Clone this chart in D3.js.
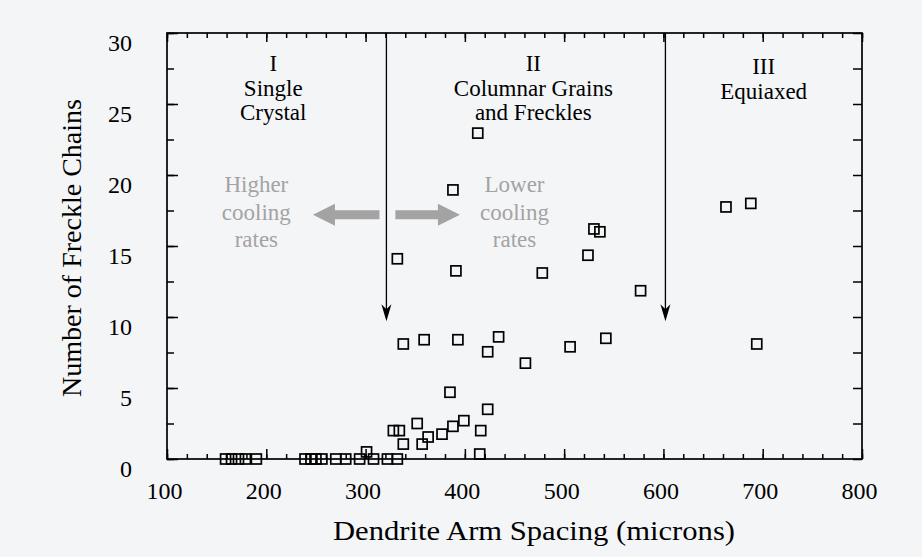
<!DOCTYPE html>
<html>
<head>
<meta charset="utf-8">
<script src="https://cdn.jsdelivr.net/npm/d3@7"></script>
<style>
  body { margin: 0; background: #f4f5f7; }
  svg { display: block; }
  text { font-family: "Liberation Serif", "Times New Roman", serif; }
</style>
</head>
<body>
<div id="chart"></div>
<script>
// Chart size
var width  = 922;
var height = 557;

// Dendrite arm spacing (microns) and number of freckle chains
var armSpacing = [159, 165, 172, 179, 190, 239, 245, 250, 256, 270, 280, 294, 308, 301, 322, 332,
                  328, 334, 338, 352, 357, 363, 377, 385, 388, 399, 416, 415, 423,
                  338, 359, 393, 423, 434, 461, 506, 542, 694,
                  332, 391, 478, 524, 577, 413, 388, 530, 536, 663, 688];
var freckleChains = [0, 0, 0, 0, 0, 0, 0, 0, 0, 0, 0, 0, 0, 0.5, 0, 0,
                     2.0, 2.0, 1.05, 2.5, 1.05, 1.55, 1.75, 4.7, 2.3, 2.7, 2.0, 0.35, 3.5,
                     8.1, 8.4, 8.4, 7.55, 8.6, 6.75, 7.9, 8.5, 8.1,
                     14.1, 13.25, 13.1, 14.35, 11.85, 22.95, 18.95, 16.2, 16.0, 17.75, 18.0];

// Axis ticks
var xMajorTicks = [100, 200, 300, 400, 500, 600, 700, 800];
var xMinorTicks = d3.range(100, 801, 20);
var yMajorTicks = [0, 5, 10, 15, 20, 25, 30];
var yMinorTicks = d3.range(0, 30.1, 2.5);

// Region boundaries (arrows) and labels
var boundaries    = [321, 602];
var boundaryTip   = 9.7;
var regionCenters = [207, 469, 701];
var regionLines   = [["I", "Single", "Crystal"],
                     ["II", "Columnar Grains", "and Freckles"],
                     ["III", "Equiaxed"]];

// Cooling rate notes (grey)
var coolingCenters = [190, 450];
var coolingLines   = [["Higher", "cooling", "rates"], ["Lower", "cooling", "rates"]];
var coolingArrows  = [[314, 247], [330, 395]];
var coolingArrowY  = 17.2;

var svg = d3.select("#chart").append("svg")
    .attr("width", width)
    .attr("height", height);

var x = d3.scaleLinear().domain([100, 800]).range([167, 862]);
var y = d3.scaleLinear().domain([0, 30]).range([459, 33]);

function styleAxis(g) {
    g.select(".domain").remove();
    g.selectAll("line").attr("stroke", "#000").attr("stroke-width", 1.5);
}

// Minor ticks, all four sides, pointing inward
svg.append("g").attr("transform", "translate(0," + y(0) + ")")
    .call(d3.axisBottom(x).tickValues(xMinorTicks).tickSize(-5).tickFormat(""))
    .call(styleAxis);
svg.append("g").attr("transform", "translate(0," + y(30) + ")")
    .call(d3.axisTop(x).tickValues(xMinorTicks).tickSize(-5).tickFormat(""))
    .call(styleAxis);
svg.append("g").attr("transform", "translate(" + x(100) + ",0)")
    .call(d3.axisLeft(y).tickValues(yMinorTicks).tickSize(-7).tickFormat(""))
    .call(styleAxis);
svg.append("g").attr("transform", "translate(" + x(800) + ",0)")
    .call(d3.axisRight(y).tickValues(yMinorTicks).tickSize(-9).tickFormat(""))
    .call(styleAxis);

// Major ticks with labels
svg.append("g").attr("transform", "translate(0," + y(0) + ")")
    .call(d3.axisBottom(x).tickValues(xMajorTicks).tickSize(-10).tickPadding(0))
    .call(styleAxis)
    .call(function(g) {
        g.selectAll("text")
            .attr("y", 32).attr("dy", "0.33em").attr("dx", -3)
            .attr("font-size", 24).attr("fill", "#000");
    });
svg.append("g").attr("transform", "translate(0," + y(30) + ")")
    .call(d3.axisTop(x).tickValues(xMajorTicks).tickSize(-9).tickFormat(""))
    .call(styleAxis);
svg.append("g").attr("transform", "translate(" + x(100) + ",0)")
    .call(d3.axisLeft(y).tickValues(yMajorTicks).tickSize(-11).tickPadding(35))
    .call(styleAxis)
    .call(function(g) {
        g.selectAll("text")
            .attr("y", 9.5).attr("dy", "0.33em")
            .attr("font-size", 24).attr("fill", "#000");
    });

// Frame
svg.append("rect")
    .attr("x", x(100))
    .attr("y", y(30))
    .attr("width", x(800) - x(100))
    .attr("height", y(0) - y(30))
    .attr("fill", "none")
    .attr("stroke", "#000")
    .attr("stroke-width", 1.7);

// Boundary arrows
boundaries.forEach(function(b) {
    var px = x(b), tip = y(boundaryTip);
    svg.append("line")
        .attr("x1", px).attr("x2", px)
        .attr("y1", y(30)).attr("y2", tip - 10)
        .attr("stroke", "#000").attr("stroke-width", 1.3);
    svg.append("path")
        .attr("d", "M" + px + "," + tip + "L" + (px - 5) + "," + (tip - 17) +
                   "L" + px + "," + (tip - 12) + "L" + (px + 5) + "," + (tip - 17) + "Z")
        .attr("fill", "#000");
});

// Region labels
regionLines.forEach(function(lines, i) {
    var t = svg.append("text")
        .attr("x", x(regionCenters[i]))
        .attr("y", i == 2 ? 74 : 71)
        .attr("text-anchor", "middle")
        .attr("font-size", 23)
        .attr("fill", "#000");
    lines.forEach(function(line, j) {
        t.append("tspan")
            .attr("x", x(regionCenters[i]))
            .attr("dy", j == 0 ? 0 : 24.5)
            .text(line);
    });
});

// Grey cooling-rate notes
coolingLines.forEach(function(lines, i) {
    var t = svg.append("text")
        .attr("x", x(coolingCenters[i]))
        .attr("y", 192)
        .attr("text-anchor", "middle")
        .attr("font-size", 23)
        .attr("fill", "#a3a3a3");
    lines.forEach(function(line, j) {
        t.append("tspan")
            .attr("x", x(coolingCenters[i]))
            .attr("dy", j == 0 ? 0 : 27.5)
            .text(line);
    });
});

coolingArrows.forEach(function(a) {
    var x0 = x(a[0]), x1 = x(a[1]), yc = y(coolingArrowY);
    var dir = x1 > x0 ? 1 : -1;
    var neck = x1 - dir * 22;
    svg.append("path")
        .attr("d", "M" + x0 + "," + (yc - 4.5) +
                   "L" + neck + "," + (yc - 4.5) +
                   "L" + neck + "," + (yc - 11) +
                   "L" + x1 + "," + yc +
                   "L" + neck + "," + (yc + 11) +
                   "L" + neck + "," + (yc + 4.5) +
                   "L" + x0 + "," + (yc + 4.5) + "Z")
        .attr("fill", "#a3a3a3");
});

// Data squares
svg.append("g")
    .selectAll("rect")
    .data(d3.zip(armSpacing, freckleChains))
    .enter()
    .append("rect")
    .attr("x", function(d) { return x(d[0]) - 5; })
    .attr("y", function(d) { return y(d[1]) - 5; })
    .attr("width", 10)
    .attr("height", 10)
    .attr("fill", "none")
    .attr("stroke", "#000")
    .attr("stroke-width", 1.7);

// Axis titles
svg.append("text")
    .attr("x", 534)
    .attr("y", 540)
    .attr("text-anchor", "middle")
    .attr("font-size", 27)
    .attr("textLength", 402)
    .attr("lengthAdjust", "spacingAndGlyphs")
    .attr("fill", "#000")
    .text("Dendrite Arm Spacing (microns)");

svg.append("text")
    .attr("transform", "translate(81,248) rotate(-90)")
    .attr("text-anchor", "middle")
    .attr("font-size", 27)
    .attr("textLength", 298)
    .attr("lengthAdjust", "spacingAndGlyphs")
    .attr("fill", "#000")
    .text("Number of Freckle Chains");
</script>
</body>
</html>
